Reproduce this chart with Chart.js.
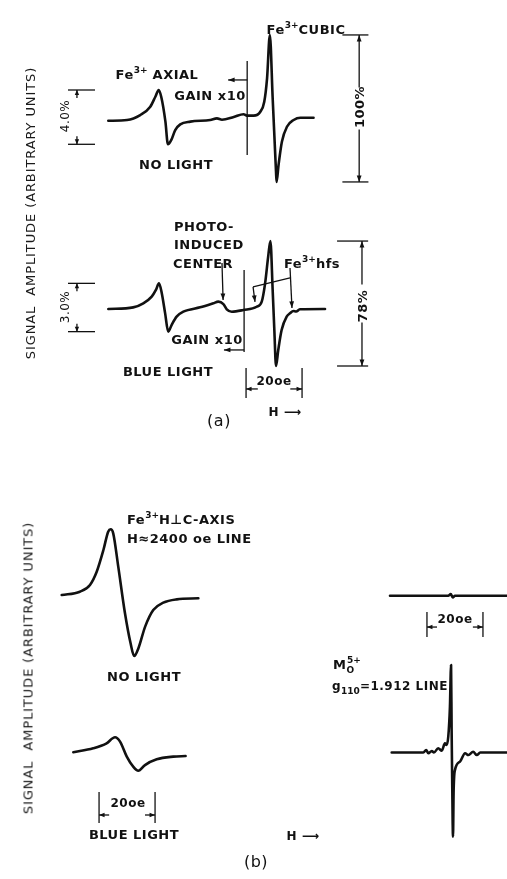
<!DOCTYPE html>
<html>
<head>
<meta charset="utf-8">
<script src="https://cdn.jsdelivr.net/npm/chart.js@4.4.1/dist/chart.umd.min.js"></script>
<style>
html,body{margin:0;padding:0;background:#fff;}
#wrap{position:relative;width:507px;height:879px;overflow:hidden;background:#fff;}
#wrap canvas{position:absolute;left:0;top:0;}
.t{position:absolute;font-family:"DejaVu Sans",sans-serif;font-size:13px;font-weight:bold;color:#111;white-space:nowrap;line-height:1;letter-spacing:0.5px;}
.t.n{font-weight:normal;}
.t.y{letter-spacing:0.9px;color:#1a1a1a;}
.sup{font-size:9px;position:relative;top:-6px;letter-spacing:0;}
.sub{font-size:9px;position:relative;top:4px;letter-spacing:0;}
</style>
</head>
<body>
<div id="wrap">
  <canvas id="c" width="507" height="879"></canvas>
  <div id="labels"></div>
</div>
<script>
// ---------------- DATA (field offset in oe, signal in arbitrary units) ----------------
// (a) Fe3+ spectrum, no light
const a1Field  = [0,6.7,11.4,15.0,16.8,18.0,18.9,20.4,21.3,22.5,23.9,25.7,29.3,36.4,38.8,40.6,44.8,48.3,49.5,51.9,54.3,55.7,56.7,57.7,58.7,59.3,59.9,60.1,60.8,62.0,63.8,66.2,68.6,73.3];
const a1Signal = [-0.5,0,3.3,8.9,15.5,20.0,15.5,-1.1,-16.2,-13.3,-6.7,-2.9,-1.1,0,1.1,0.2,2.0,3.8,2.9,2.9,5.5,12.2,27.8,56.7,14.7,-10,-34.5,-41.3,-30,-14.5,-4.5,0,1.5,1.5];
// (a) Fe3+ spectrum, blue light
const a2Field  = [0,8.9,12.5,15.5,17.0,18.1,19.1,20.3,21.4,22.6,24.4,26.8,32.8,37.5,39.3,41.1,42.3,44.1,48.2,53.0,54.8,56.0,57.1,57.9,58.7,59.3,59.9,60.7,61.9,63.7,64.9,66.1,67.1,68.4,77.4];
const a2Signal = [0,1.1,3.8,8.2,12.7,17.1,10.5,-2.9,-15.1,-10.7,-5.1,-1.8,1.1,3.8,4.9,3.3,-0.2,-1.8,-0.7,1.5,4.9,17.1,34.9,45.3,12.7,-14,-38,-27.3,-14,-5.1,-2.9,-1.3,-1.7,-0.2,0];
// (b) Fe3+ H perp C-axis line, no light / blue light
const b1Field  = [0,6.5,10.1,12.5,14.9,16.6,17.5,18.4,20.2,22.6,24.6,25.9,27.4,29.8,32.7,36.3,41.1,48.8];
const b1Signal = [2.0,4.2,8.7,17.5,32,44.2,45.8,43.1,20.9,-10.2,-30.2,-38.7,-33.5,-19.1,-8,-3.1,-0.9,-0.2];
const b2Field  = [0,7.1,11.9,14.9,16.7,19.1,21.4,23.2,25.6,29.8,35.7,40.1];
const b2Signal = [1.8,4.5,7.8,11.8,8.9,-1.1,-7.8,-10.5,-6.7,-2.9,-1.1,-0.7];
// (b) Mo5+ g110 = 1.912 line, no light / blue light
const b3Field  = [0,20.8,21.7,22.4,23.2,41.8];
const b3Signal = [0,0,1.1,-1.1,0,0];
const b4Field  = [0,11.3,12.3,13.1,14.3,15.1,16.6,17.9,19.0,19.6,20.2,20.8,21.2,21.4,21.6,21.9,22.1,22.6,24.4,26.2,27.4,29.1,30.4,31.6,41.2];
const b4Signal = [0,0,1.7,-0.5,1.0,0,2.8,1.2,6.1,5.0,10.5,30.5,58.3,15,-18.3,-56.1,-27.2,-11.7,-6.1,-0.5,-1.7,0.5,-1.7,0,0];

const dimLabels = ["4.0%","100%","3.0%","78%"];
const fieldMarker = 20; // oe

// ---------------- LAYOUT ----------------
const W = 507, H = 879;
const PX_PER_OE = 2.8, PX_PER_UNIT = 1.5;
const placement = {
  a1:{x0:108.3, y0:120},
  a2:{x0:108.3, y0:309},
  b1:{x0:61.7,  y0:598},
  b2:{x0:73.3,  y0:755},
  b3:{x0:390,   y0:595.7},
  b4:{x0:391.7, y0:752.5}
};
const traces = [
  {id:'a1', f:a1Field, s:a1Signal},
  {id:'a2', f:a2Field, s:a2Signal},
  {id:'b1', f:b1Field, s:b1Signal},
  {id:'b2', f:b2Field, s:b2Signal},
  {id:'b3', f:b3Field, s:b3Signal},
  {id:'b4', f:b4Field, s:b4Signal}
];
const INK = '#111';

const scales = {};
const datasets = [];
traces.forEach(t => {
  const p = placement[t.id];
  scales['x_'+t.id] = {type:'linear', display:false, min:-p.x0/PX_PER_OE, max:(W-p.x0)/PX_PER_OE};
  scales['y_'+t.id] = {type:'linear', display:false, min:-(H-p.y0)/PX_PER_UNIT, max:p.y0/PX_PER_UNIT};
  datasets.push({
    label:t.id,
    data:t.f.map((x,i)=>({x:x, y:t.s[i]})),
    xAxisID:'x_'+t.id, yAxisID:'y_'+t.id,
    borderColor:INK, borderWidth:2.6, pointRadius:0,
    cubicInterpolationMode:'monotone', fill:false, clip:false,
    borderCapStyle:'round', borderJoinStyle:'round'
  });
});

const annotations = {
  id:'annotations',
  afterDatasetsDraw(chart){
    const ctx = chart.ctx;
    const P = (id,x,y)=>[chart.scales['x_'+id].getPixelForValue(x), chart.scales['y_'+id].getPixelForValue(y)];
    ctx.save();
    ctx.strokeStyle = INK; ctx.fillStyle = INK; ctx.lineWidth = 1.3;
    const seg = (a,b)=>{ctx.beginPath();ctx.moveTo(a[0],a[1]);ctx.lineTo(b[0],b[1]);ctx.stroke();};
    const head = (from,to,len=6.5,half=2.4)=>{
      const dx=to[0]-from[0], dy=to[1]-from[1], d=Math.hypot(dx,dy)||1, ux=dx/d, uy=dy/d;
      ctx.beginPath(); ctx.moveTo(to[0],to[1]);
      ctx.lineTo(to[0]-ux*len-uy*half, to[1]-uy*len+ux*half);
      ctx.lineTo(to[0]-ux*len+uy*half, to[1]-uy*len-ux*half);
      ctx.closePath(); ctx.fill();
    };
    const arrow = (a,b,len,half)=>{seg(a,b);head(a,b,len,half);};

    // gain boundary markers
    seg(P('a1',49.6,39.3), P('a1',49.6,-23.3));
    arrow(P('a1',49.6,26.7), P('a1',42.8,26.7));
    seg(P('a2',48.5,26), P('a2',48.5,-28.7));
    arrow(P('a2',48.5,-27.3), P('a2',41.3,-27.3));

    // large dimension bars (100%, 78%)
    const bigDim = (id, sig, x0, x1, xv, halfGap) => {
      const top = Math.max(...sig), bot = Math.min(...sig);
      seg(P(id,x0,top), P(id,x1,top));
      seg(P(id,x0,bot), P(id,x1,bot));
      const [vx,ty] = P(id,xv,top), [,by] = P(id,xv,bot), my=(ty+by)/2;
      arrow([vx,my-halfGap],[vx,ty]);
      arrow([vx,my+halfGap],[vx,by]);
    };
    bigDim('a1', a1Signal, 83.6, 92.9, 89.6, 21);
    bigDim('a2', a2Signal, 81.7, 92.8, 90.6, 19);

    // small dimension bars (4.0%, 3.0%) on the gain x10 part
    const smallDim = (id, f, sig, limit) => {
      const part = sig.filter((v,i)=>f[i] < limit);
      const top = Math.max(...part), bot = Math.min(...part);
      seg(P(id,-14.4,top), P(id,-4.75,top));
      seg(P(id,-14.4,bot), P(id,-4.75,bot));
      const [vx,ty] = P(id,-11.2,top), [,by] = P(id,-11.2,bot);
      arrow([vx,ty+8],[vx,ty],5,2.2);
      arrow([vx,by-8],[vx,by],5,2.2);
    };
    smallDim('a1', a1Field, a1Signal, 49.6);
    smallDim('a2', a2Field, a2Signal, 48.5);

    // 20 oe field markers
    const fieldDim = (id, xl, yTop, yBot, yArr, shaft) => {
      const xr = xl + fieldMarker;
      seg(P(id,xl,yTop), P(id,xl,yBot));
      seg(P(id,xr,yTop), P(id,xr,yBot));
      arrow(P(id,xl+shaft,yArr), P(id,xl,yArr),5.5,2.2);
      arrow(P(id,xr-shaft,yArr), P(id,xr,yArr),5.5,2.2);
    };
    fieldDim('a2', 49.2, -39.3, -59.3, -53.3, 4.2);
    fieldDim('b2', 9.2, -24.7, -45.3, -40, 3.6);
    fieldDim('b3', 13.2, -10.9, -27.5, -20.9, 3.6);

    // photo-induced centre arrow
    arrow(P('a2',40.6,30.7), P('a2',41.0,6));
    // Fe3+ hfs bracket
    arrow(P('a2',64.9,27.3), P('a2',65.6,0.7));
    seg(P('a2',64.9,20.7), P('a2',51.7,14.7));
    arrow(P('a2',51.7,14.7), P('a2',52.4,4.7));
    ctx.restore();
  }
};

new Chart(document.getElementById('c'), {
  type:'line',
  data:{datasets:datasets},
  options:{
    responsive:false, animation:false, maintainAspectRatio:false,
    layout:{padding:0},
    scales:scales,
    plugins:{legend:{display:false}, tooltip:{enabled:false}, title:{display:false}},
    elements:{line:{tension:0}}
  },
  plugins:[annotations, {id:'bg', beforeDraw(c){const x=c.ctx;x.save();x.fillStyle='#fff';x.fillRect(0,0,c.width,c.height);x.restore();}}]
});

// ---------------- TEXT ----------------
const labels = [
  // [html, x, y, anchor, rotation, extra class, font size]
  ['SIGNAL&nbsp; AMPLITUDE (ARBITRARY UNITS)', 30, 213, 'c', -90, 'n y', 13],
  ['Fe<span class="sup">3+</span>CUBIC', 306, 29, 'c', 0, '', 13],
  ['Fe<span class="sup">3+</span> AXIAL', 157, 74, 'c', 0, '', 13],
  ['GAIN x10', 210, 95, 'c', 0, '', 13],
  ['NO LIGHT', 176, 164, 'c', 0, '', 13],
  [dimLabels[1], 359, 107, 'c', -90, '', 13],
  [dimLabels[0], 65, 116, 'c', -90, 'n', 12],
  ['PHOTO-', 174, 226, 'l', 0, '', 13],
  ['INDUCED', 174, 244, 'l', 0, '', 13],
  ['CENTER', 173, 263, 'l', 0, '', 13],
  ['Fe<span class="sup">3+</span>hfs', 312, 263, 'c', 0, '', 13],
  [dimLabels[2], 65, 307, 'c', -90, 'n', 12],
  [dimLabels[3], 362, 306, 'c', -90, '', 13],
  ['GAIN x10', 207, 339, 'c', 0, '', 13],
  ['BLUE LIGHT', 168, 371, 'c', 0, '', 13],
  ['20oe', 274, 381, 'c', 0, '', 12],
  ['H &#10230;', 285, 412, 'c', 0, '', 12],
  ['(a)', 219, 421, 'c', 0, 'n', 16],
  ['SIGNAL&nbsp; AMPLITUDE (ARBITRARY UNITS)', 28, 668, 'c', -90, 'n y', 13],
  ['Fe<span class="sup">3+</span>H&#8869;C-AXIS', 127, 519, 'l', 0, '', 13],
  ['H&#8776;2400 oe LINE', 127, 538, 'l', 0, '', 13],
  ['NO LIGHT', 144, 676, 'c', 0, '', 13],
  ['20oe', 128, 803, 'c', 0, '', 12],
  ['BLUE LIGHT', 134, 834, 'c', 0, '', 13],
  ['20oe', 455, 619, 'c', 0, '', 12],
  ['M<span class="sub">O</span><span class="sup" style="margin-left:-7px">5+</span>', 333, 664, 'l', 0, '', 13],
  ['g<span class="sub">110</span>=1.912 LINE', 332, 686, 'l', 0, '', 12],
  ['H &#10230;', 303, 836, 'c', 0, '', 12],
  ['(b)', 256, 862, 'c', 0, 'n', 16]
];
const host = document.getElementById('labels');
labels.forEach(([html,x,y,anchor,rot,cls,size]) => {
  const d = document.createElement('div');
  d.className = 't' + (cls ? ' '+cls : '');
  d.innerHTML = html;
  d.style.left = x+'px'; d.style.top = y+'px'; d.style.fontSize = size+'px';
  const tx = anchor === 'l' ? '0' : '-50%';
  d.style.transform = `translate(${tx},-50%) rotate(${rot}deg)`;
  host.appendChild(d);
});
</script>
</body>
</html>
